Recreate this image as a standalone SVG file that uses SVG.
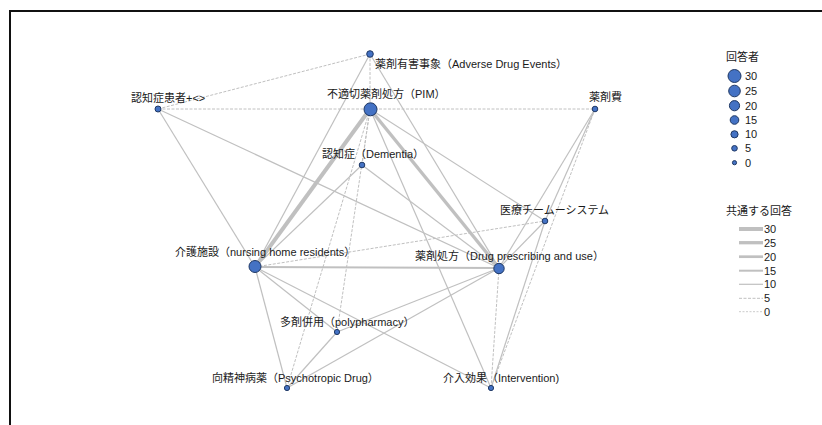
<svg xmlns="http://www.w3.org/2000/svg" width="822" height="425" viewBox="0 0 822 425">
  <style>
    .lbl { font-family: "Liberation Sans", "Noto Sans CJK JP", sans-serif; font-size: 11px; fill: #1a1a1a; }
    .node { fill: #4472c4; stroke: #1f3864; stroke-width: 1; }
    .e { stroke: #c0c0c0; fill: none; stroke-linecap: butt; }
    .w0 { stroke-width: 1; stroke-dasharray: 2 1.5; stroke: #cccccc; }
    .w5 { stroke-width: 1; stroke-dasharray: 3 1.5; }
    .w10 { stroke-width: 1.2; }
    .w15 { stroke-width: 2; }
    .w20 { stroke-width: 2.7; }
    .w25 { stroke-width: 3.3; }
    .w30 { stroke-width: 4; }
  </style>

  <rect x="0" y="0" width="822" height="425" fill="#ffffff"/>
  <!-- outer frame -->
  <path d="M10,425 V11 H822" fill="none" stroke="#111" stroke-width="2"/>

  <!-- connectors -->
  <g id="edges">
    <line class="e w5" x1="370" y1="54" x2="158" y2="109"/>
    <line class="e w5" x1="370" y1="54" x2="370" y2="109"/>
    <line class="e w10" x1="370" y1="54" x2="255" y2="267"/>
    <line class="e w10" x1="370" y1="54" x2="499" y2="268"/>
    <line class="e w5" x1="158" y1="109" x2="370" y2="109"/>
    <line class="e w5" x1="370" y1="109" x2="595" y2="109"/>
    <line class="e w10" x1="158" y1="109" x2="255" y2="267"/>
    <line class="e w10" x1="158" y1="109" x2="499" y2="268"/>
    <line class="e w5" x1="370" y1="109" x2="362" y2="165"/>
    <line class="e w10" x1="370" y1="109" x2="545" y2="221"/>
    <line class="e w30" x1="370" y1="109" x2="255" y2="267"/>
    <line class="e w25" x1="370" y1="109" x2="499" y2="268"/>
    <line class="e w5" x1="370" y1="109" x2="337" y2="332"/>
    <line class="e w5" x1="370" y1="109" x2="287" y2="388"/>
    <line class="e w10" x1="370" y1="109" x2="491" y2="388"/>
    <line class="e w10" x1="595" y1="109" x2="545" y2="221"/>
    <line class="e w10" x1="595" y1="109" x2="499" y2="268"/>
    <line class="e w5" x1="595" y1="109" x2="491" y2="388"/>
    <line class="e w10" x1="362" y1="165" x2="255" y2="267"/>
    <line class="e w10" x1="362" y1="165" x2="499" y2="268"/>
    <line class="e w5" x1="255" y1="267" x2="545" y2="221"/>
    <line class="e w10" x1="545" y1="221" x2="499" y2="268"/>
    <line class="e w10" x1="545" y1="221" x2="491" y2="388"/>
    <line class="e w15" x1="255" y1="267" x2="499" y2="268"/>
    <line class="e w10" x1="255" y1="267" x2="337" y2="332"/>
    <line class="e w10" x1="255" y1="267" x2="287" y2="388"/>
    <line class="e w10" x1="255" y1="267" x2="491" y2="388"/>
    <line class="e w10" x1="499" y1="268" x2="337" y2="332"/>
    <line class="e w10" x1="499" y1="268" x2="287" y2="388"/>
    <line class="e w5" x1="499" y1="268" x2="491" y2="388"/>
    <line class="e w10" x1="337" y1="332" x2="287" y2="388"/>
  </g>

  <!-- nodes -->
  <g id="n-ade">
    <circle class="node" cx="370" cy="54" r="3.3"/>
    <text class="lbl" x="375" y="68">薬剤有害事象（Adverse Drug Events）</text>
  </g>
  <g id="n-patients">
    <circle class="node" cx="158" cy="109" r="3"/>
    <text class="lbl" x="131" y="102">認知症患者+&lt;&gt;</text>
  </g>
  <g id="n-pim">
    <circle class="node" cx="370.5" cy="109.3" r="6.5"/>
    <text class="lbl" x="327" y="98">不適切薬剤処方（PIM）</text>
  </g>
  <g id="n-cost">
    <circle class="node" cx="595" cy="109" r="2.8"/>
    <text class="lbl" x="589" y="101">薬剤費</text>
  </g>
  <g id="n-dementia">
    <circle class="node" cx="362" cy="165" r="2.8"/>
    <text class="lbl" x="322" y="158">認知症（Dementia）</text>
  </g>
  <g id="n-team">
    <circle class="node" cx="545" cy="221" r="2.8"/>
    <text class="lbl" x="500" y="214">医療チームーシステム</text>
  </g>
  <g id="n-nursing">
    <circle class="node" cx="255" cy="266.5" r="6"/>
    <text class="lbl" x="175" y="256">介護施設（nursing home residents）</text>
  </g>
  <g id="n-prescribing">
    <circle class="node" cx="499" cy="268.5" r="5.2"/>
    <text class="lbl" x="415" y="260">薬剤処方（Drug prescribing and use）</text>
  </g>
  <g id="n-poly">
    <circle class="node" cx="337" cy="332" r="2.6"/>
    <text class="lbl" x="280" y="326">多剤併用（polypharmacy）</text>
  </g>
  <g id="n-psycho">
    <circle class="node" cx="287" cy="388" r="2.6"/>
    <text class="lbl" x="212" y="382">向精神病薬（Psychotropic Drug）</text>
  </g>
  <g id="n-intervention">
    <circle class="node" cx="491" cy="388" r="2.6"/>
    <text class="lbl" x="443" y="382">介入効果（Intervention)</text>
  </g>

  <!-- size legend -->
  <g id="legend-size">
    <text class="lbl" x="726" y="61">回答者</text>
    <circle class="node" cx="734.5" cy="76" r="6.5"/>
    <circle class="node" cx="734.5" cy="91" r="5.8"/>
    <circle class="node" cx="734.5" cy="105.7" r="5.1"/>
    <circle class="node" cx="734.5" cy="120" r="4.3"/>
    <circle class="node" cx="734.5" cy="134.3" r="3.6"/>
    <circle class="node" cx="734.5" cy="148.3" r="2.8"/>
    <circle class="node" cx="734.5" cy="162.7" r="2.1"/>
    <text class="lbl" x="745" y="80">30</text>
    <text class="lbl" x="745" y="95">25</text>
    <text class="lbl" x="745" y="110">20</text>
    <text class="lbl" x="745" y="124">15</text>
    <text class="lbl" x="745" y="138">10</text>
    <text class="lbl" x="745" y="152">5</text>
    <text class="lbl" x="745" y="167">0</text>
  </g>

  <!-- edge weight legend -->
  <g id="legend-weight">
    <text class="lbl" x="726" y="215">共通する回答</text>
    <line class="e w30" x1="739" y1="229" x2="763" y2="229"/>
    <line class="e w25" x1="739" y1="242.7" x2="763" y2="242.7"/>
    <line class="e w20" x1="739" y1="256.7" x2="763" y2="256.7"/>
    <line class="e w15" x1="739" y1="270.7" x2="763" y2="270.7"/>
    <line class="e w10" x1="739" y1="284.3" x2="763" y2="284.3"/>
    <line class="e w5" x1="739" y1="298.3" x2="763" y2="298.3"/>
    <line class="e w0" x1="739" y1="311.7" x2="763" y2="311.7"/>
    <text class="lbl" x="764" y="233">30</text>
    <text class="lbl" x="764" y="247">25</text>
    <text class="lbl" x="764" y="261">20</text>
    <text class="lbl" x="764" y="275">15</text>
    <text class="lbl" x="764" y="288">10</text>
    <text class="lbl" x="764" y="302">5</text>
    <text class="lbl" x="764" y="316">0</text>
  </g>
</svg>
